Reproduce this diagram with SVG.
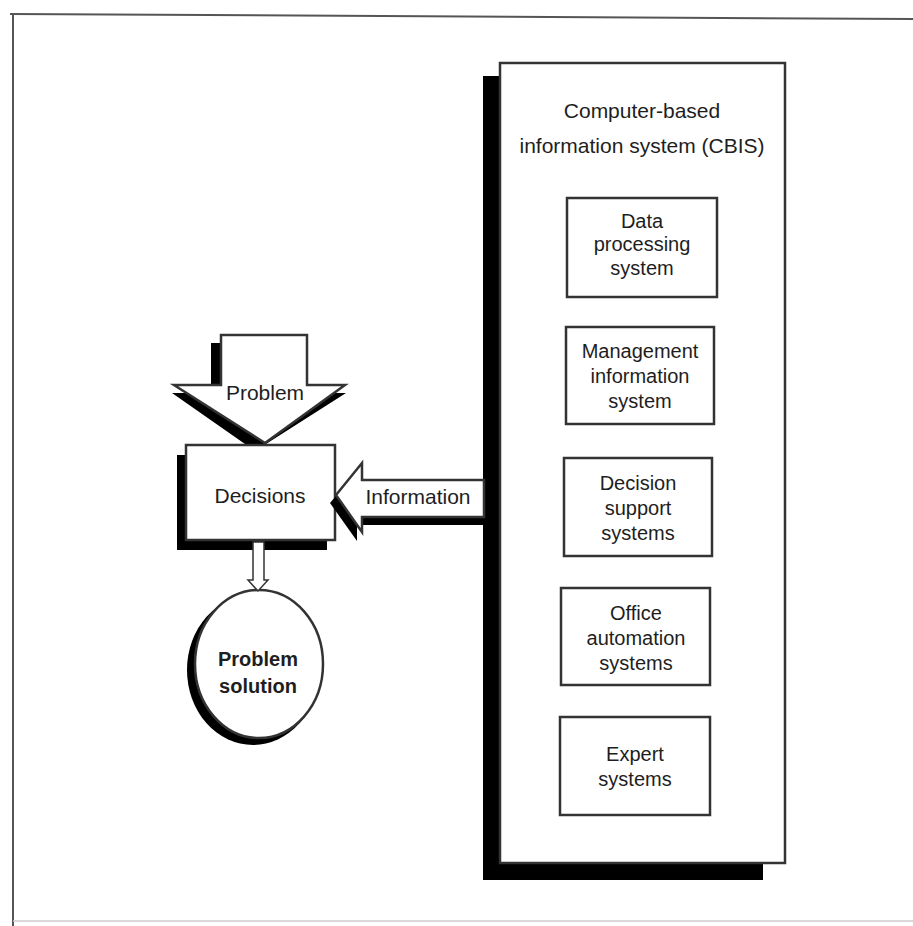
<svg xmlns="http://www.w3.org/2000/svg" width="913" height="926" viewBox="0 0 913 926">
<style>
.t{font-family:"Liberation Sans","Arial",sans-serif;font-size:20px;fill:#1e1e1e;text-anchor:middle}
.big{font-size:21px}
.box{fill:#fff;stroke:#333;stroke-width:2.5}
.sh{fill:#000}
.ln{stroke:#555;stroke-width:2;fill:none}
</style>
<rect width="913" height="926" fill="#fff"/>
<g id="frame">
<line class="ln" x1="10" y1="14" x2="913" y2="19"/>
<line class="ln" x1="13" y1="14" x2="13" y2="926"/>
<line x1="13" y1="921" x2="913" y2="921" stroke="#ccc" stroke-width="1.5"/>
</g>
<g id="cbis">
<rect class="sh" x="483" y="76" width="280" height="804"/>
<rect class="box" x="500" y="63" width="285" height="800"/>
<text class="t big" x="642" y="118">Computer-based</text>
<text class="t big" x="642" y="153">information system (CBIS)</text>
</g>
<g id="dps">
<rect class="box" x="567" y="198" width="150" height="99"/>
<text class="t" x="642" y="228">Data</text>
<text class="t" x="642" y="251">processing</text>
<text class="t" x="642" y="275">system</text>
</g>
<g id="mis">
<rect class="box" x="566" y="327" width="148" height="97"/>
<text class="t" x="640" y="358">Management</text>
<text class="t" x="640" y="383">information</text>
<text class="t" x="640" y="408">system</text>
</g>
<g id="dss">
<rect class="box" x="564" y="458" width="148" height="98"/>
<text class="t" x="638" y="490">Decision</text>
<text class="t" x="638" y="515">support</text>
<text class="t" x="638" y="540">systems</text>
</g>
<g id="oas">
<rect class="box" x="561" y="588" width="149" height="97"/>
<text class="t" x="636" y="620">Office</text>
<text class="t" x="636" y="645">automation</text>
<text class="t" x="636" y="670">systems</text>
</g>
<g id="es">
<rect class="box" x="560" y="717" width="150" height="98"/>
<text class="t" x="635" y="761">Expert</text>
<text class="t" x="635" y="786">systems</text>
</g>
<g id="problem">
<polygon class="sh" points="211,343 297,343 297,393 172,393 255,451 346,393 211,393"/>
<polygon class="box" points="221,335 307,335 307,385 345,385 265,443 174,385 221,385"/>
<text class="t big" x="265" y="400">Problem</text>
</g>
<g id="decisions">
<rect class="sh" x="177" y="455" width="150" height="95"/>
<rect class="box" x="186" y="445" width="149" height="95"/>
<text class="t big" x="260" y="503">Decisions</text>
</g>
<g id="solution">
<ellipse class="sh" cx="253" cy="670" rx="66" ry="75"/>
<ellipse class="box" cx="259" cy="664" rx="64" ry="74"/>
<text class="t" x="258" y="666" font-weight="bold">Problem</text>
<text class="t" x="258" y="693" font-weight="bold">solution</text>
</g>
<g id="connectors">
<polygon class="sh" points="483,488 357,488 357,471 330,503 357,541 357,525 483,525"/>
<polygon class="box" points="484,480 362,480 362,463 336,495 362,532 362,517 484,517"/>
<text class="t big" x="418" y="504">Information</text>
<polygon fill="#fff" stroke="#333" stroke-width="1.5" points="253,542 264,542 264,580 268,580 258,591 248,580 253,580"/>
</g>
</svg>
